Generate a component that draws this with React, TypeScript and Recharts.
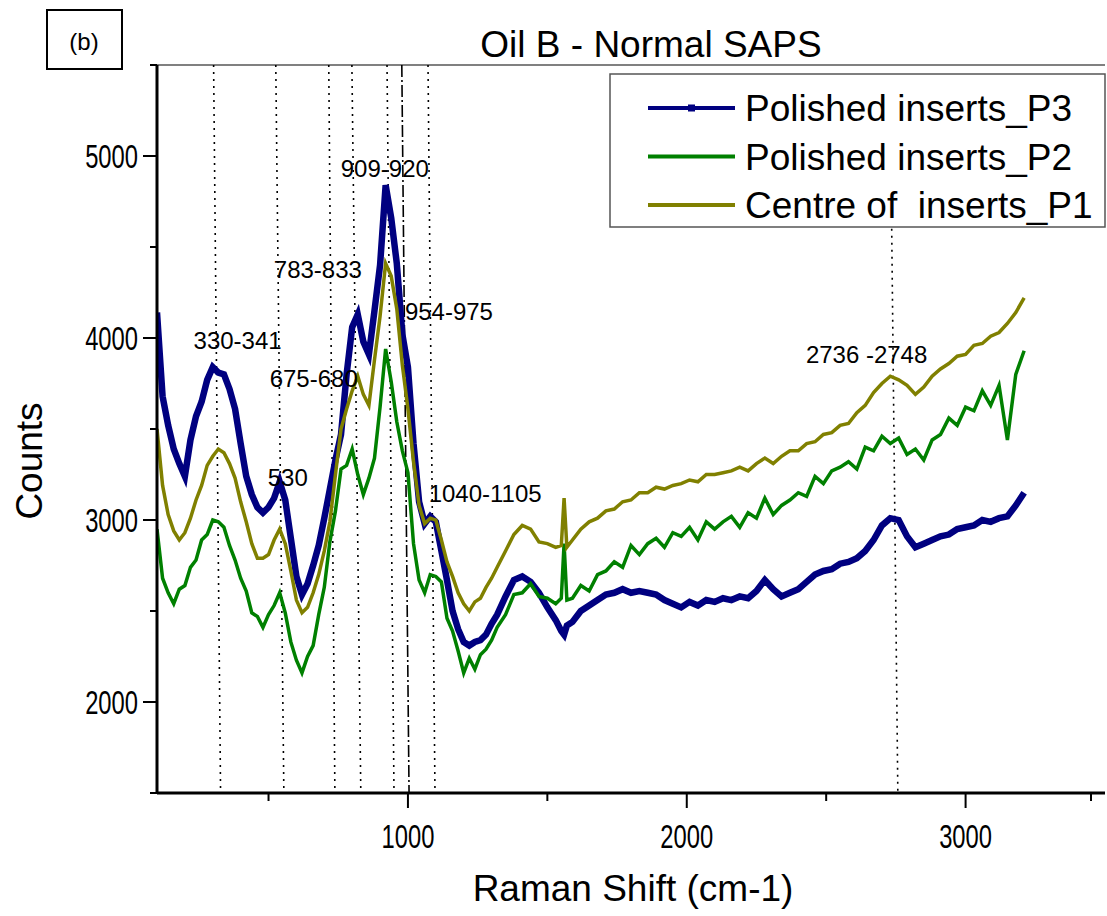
import React from 'react';
import { LineChart, Line, XAxis, YAxis, ReferenceLine, ReferenceDot } from 'recharts';

// Raman shift (cm-1) sample positions shared by the three spectra
const ramanShift = [
  100, 120, 140, 160, 180, 200, 220, 240, 260, 280,
  300, 320, 340, 360, 380, 400, 420, 440, 460, 480,
  500, 520, 540, 560, 580, 600, 620, 640, 660, 680,
  700, 720, 740, 760, 780, 800, 820, 840, 860, 880,
  900, 920, 940, 960, 980, 1000, 1020, 1040, 1060, 1080,
  1100, 1120, 1140, 1160, 1180, 1200, 1220, 1240, 1260, 1280,
  1300,
  1320, 1350, 1380, 1410, 1440, 1470, 1500, 1530,
  1550, 1560, 1570,
  1590, 1620, 1650, 1680, 1710, 1740, 1770, 1800, 1830, 1860,
  1890, 1920, 1950, 1980, 2010, 2040, 2070, 2100, 2130, 2160,
  2190, 2220, 2250, 2280, 2310, 2340, 2370, 2400, 2430, 2460,
  2490, 2520, 2550, 2580, 2610, 2640, 2670, 2700, 2730, 2760,
  2790, 2820, 2850, 2880, 2910, 2940, 2970, 3000, 3030, 3060,
  3090, 3120, 3150, 3180, 3210,
];

// Polished inserts_P3
const countsP3 = [
  4140, 3680, 3520, 3390, 3310, 3240, 3440, 3570, 3650, 3770,
  3840, 3810, 3800, 3720, 3610, 3420, 3240, 3140, 3070, 3040,
  3070, 3120, 3210, 3110, 2900, 2690, 2590, 2650, 2750, 2860,
  3010, 3170, 3330, 3470, 3800, 4060, 4130, 3980, 3910, 4150,
  4400, 4840, 4660, 4410, 4020, 3840, 3420, 3100, 2980, 3020,
  2990, 2830, 2670, 2500, 2400, 2330, 2310, 2330, 2340, 2370,
  2430,
  2480, 2580, 2670, 2690, 2660, 2600, 2520, 2450,
  2390, 2370, 2420,
  2440, 2500, 2530, 2560, 2590, 2600, 2620, 2600, 2610, 2600,
  2590, 2560, 2540, 2520, 2550, 2530, 2560, 2550, 2570, 2560,
  2580, 2570, 2610, 2670, 2620, 2580, 2600, 2620, 2660, 2700,
  2720, 2730, 2760, 2770, 2790, 2830, 2890, 2970, 3010, 3000,
  2910, 2850, 2870, 2890, 2910, 2920, 2950, 2960, 2970, 3000,
  2990, 3010, 3020, 3080, 3150,
];

// Polished inserts_P2
const countsP2 = [
  2950, 2680, 2600, 2540, 2620, 2640, 2740, 2780, 2890, 2920,
  3000, 2990, 2960, 2860, 2780, 2680, 2610, 2490, 2470, 2410,
  2480, 2530, 2600, 2490, 2330, 2230, 2160, 2250, 2310, 2480,
  2630, 2880, 3050, 3280, 3300, 3390, 3250, 3140, 3230, 3340,
  3620, 3940, 3760, 3540, 3380, 3260, 2870, 2670, 2600, 2700,
  2690, 2660, 2460, 2390, 2280, 2160, 2240, 2180, 2260, 2290,
  2340,
  2410, 2480, 2590, 2600, 2650, 2580, 2570, 2540,
  2570, 2870, 2560,
  2570, 2640, 2610, 2700, 2720, 2770, 2740, 2860, 2810, 2870,
  2900, 2850, 2930, 2910, 2960, 2890, 2990, 2950, 2990, 3020,
  2960, 3040, 3010, 3120, 3030, 3080, 3110, 3150, 3130, 3240,
  3200, 3270, 3290, 3320, 3280, 3400, 3380, 3460, 3420, 3450,
  3360, 3390, 3330, 3440, 3470, 3560, 3520, 3620, 3600, 3710,
  3630, 3740, 3440, 3800, 3930,
];

// Centre of  inserts_P1
const countsP1 = [
  3500, 3190, 3030, 2940, 2890, 2930, 3010, 3110, 3190, 3300,
  3350, 3390, 3370, 3310, 3230, 3100, 2990, 2870, 2790, 2790,
  2810, 2890, 2950, 2870, 2720, 2560, 2490, 2520, 2600, 2700,
  2830, 2990, 3250, 3500, 3610, 3710, 3790, 3690, 3630, 3880,
  4120, 4410, 4340, 4160, 3850, 3610, 3320, 3080, 2980, 3010,
  3000, 2890, 2770, 2690, 2600, 2540, 2500, 2550, 2570, 2630,
  2680,
  2740, 2830, 2920, 2970, 2950, 2880, 2870, 2850,
  2860, 3120, 2850,
  2890, 2950, 2990, 3010, 3050, 3060, 3100, 3110, 3150, 3150,
  3180, 3170, 3190, 3200, 3220, 3210, 3250, 3250, 3260, 3270,
  3290, 3270, 3310, 3340, 3310, 3350, 3380, 3380, 3420, 3430,
  3470, 3480, 3520, 3530, 3590, 3630, 3700, 3750, 3790, 3770,
  3740, 3690, 3730, 3790, 3830, 3860, 3900, 3910, 3960, 3970,
  4010, 4030, 4080, 4140, 4220,
];

const xTicks = [500, 1000, 1500, 2000, 2500, 3000, 3500];
const yTicks = [1500, 2000, 2500, 3000, 3500, 4000, 4500, 5000, 5500];

// dotted guide lines through the assigned bands (shift at top, shift at bottom)
const guideTop = [303, 526, 716, 799, 925, 1072, 2735];
const guideBottom = [328, 555, 738, 831, 950, 1097, 2757];
const guideTopCounts = [5500, 5500, 5500, 5500, 5500, 5500, 4600];
// dash-dot guide
const dashDotGuide = [978, 1004];

const bandLabels = ['330-341', '783-833', '909-920', '954-975', '675-680', '530', '1040-1105', '2736 -2748'];
const bandLabelShift = [389, 677, 917, 1147, 662, 569, 1277, 2645];
const bandLabelCounts = [3989, 4374, 4934, 4148, 3780, 3231, 3148, 3907];

const seriesNames = ['Polished inserts_P3', 'Polished inserts_P2', 'Centre of  inserts_P1'];
const seriesColors = ['#000080', '#008000', '#808000'];

const data = ramanShift.map((shift, i) => ({
  shift,
  p3: countsP3[i],
  p2: countsP2[i],
  p1: countsP1[i],
}));

const FONT = '"Liberation Sans", Arial, Helvetica, sans-serif';

const XTick = (props: any) => {
  const { x, y, payload } = props;
  const major = payload.value % 1000 === 0;
  return (
    <g>
      <line x1={x} x2={x} y1={y} y2={y + (major ? 15 : 8)} stroke="#000" strokeWidth={2} />
      {major && (
        <text transform={`translate(${x},${y + 55}) scale(0.72,1)`} textAnchor="middle" fontSize={33} fill="#000">
          {payload.value}
        </text>
      )}
    </g>
  );
};

const YTick = (props: any) => {
  const { x, y, payload } = props;
  const major = payload.value % 1000 === 0;
  return (
    <g>
      <line x1={x - (major ? 14 : 7)} x2={x} y1={y} y2={y} stroke="#000" strokeWidth={2} />
      {major && (
        <text transform={`translate(${x - 19},${y + 12}) scale(0.72,1)`} textAnchor="end" fontSize={33} fill="#000">
          {payload.value}
        </text>
      )}
    </g>
  );
};

const XLabel = (props: any) => {
  const { viewBox } = props;
  return (
    <text x={viewBox.x + viewBox.width / 2 + 2} y={viewBox.y + 108} textAnchor="middle" fontSize={37} fill="#000">
      Raman Shift (cm-1)
    </text>
  );
};

const YLabel = (props: any) => {
  const { viewBox } = props;
  const cx = 29;
  const cy = viewBox.y + viewBox.height / 2 + 32;
  return (
    <text x={cx} y={cy} transform={`rotate(-90, ${cx}, ${cy})`} textAnchor="middle" dominantBaseline="central" fontSize={37} fill="#000">
      Counts
    </text>
  );
};

export default function App() {
  return (
    <div style={{ position: 'absolute', left: 0, top: 0, background: '#fff' }}>
      <LineChart
        width={1107}
        height={916}
        data={data}
        margin={{ top: 65, right: 2, bottom: 0, left: 0 }}
        style={{ fontFamily: FONT }}
      >
        <XAxis
          type="number"
          dataKey="shift"
          domain={[100, 3500]}
          ticks={xTicks}
          allowDataOverflow
          height={123}
          tickSize={0}
          tickMargin={0}
          tickLine={false}
          tick={<XTick />}
          axisLine={{ stroke: '#000', strokeWidth: 3 }}
          label={<XLabel />}
        />
        <YAxis
          type="number"
          domain={[1500, 5500]}
          ticks={yTicks}
          allowDataOverflow
          width={157}
          tickSize={0}
          tickMargin={0}
          tickLine={false}
          tick={<YTick />}
          axisLine={{ stroke: '#000', strokeWidth: 3 }}
          label={<YLabel />}
        />

        <ReferenceLine y={5500} stroke="#808080" strokeWidth={2} />

        {guideTop.map((top, i) => (
          <ReferenceLine
            key={`g${i}`}
            segment={[{ x: top, y: guideTopCounts[i] }, { x: guideBottom[i], y: 1500 }]}
            stroke="#000"
            strokeWidth={1.6}
            strokeDasharray="2 5"
          />
        ))}
        <ReferenceLine
          segment={[{ x: dashDotGuide[0], y: 5500 }, { x: dashDotGuide[1], y: 1500 }]}
          stroke="#000"
          strokeWidth={1.6}
          strokeDasharray="12 3 2 3"
        />

        <Line type="linear" dataKey="p3" stroke={seriesColors[0]} strokeWidth={6.5} dot={false} isAnimationActive={false} />
        <Line type="linear" dataKey="p2" stroke={seriesColors[1]} strokeWidth={3.5} dot={false} isAnimationActive={false} />
        <Line type="linear" dataKey="p1" stroke={seriesColors[2]} strokeWidth={3.5} dot={false} isAnimationActive={false} />

        {bandLabels.map((text, i) => (
          <ReferenceDot
            key={`l${i}`}
            x={bandLabelShift[i]}
            y={bandLabelCounts[i]}
            r={0}
            fill="none"
            stroke="none"
            label={{ value: text, position: 'center', fontSize: 24, fill: '#000' }}
          />
        ))}

        {/* title and panel tag */}
        <text x={651} y={57} textAnchor="middle" fontSize={37} fill="#000">
          Oil B - Normal SAPS
        </text>
        <rect x={47} y={10} width={75} height={59} fill="none" stroke="#000" strokeWidth={2} />
        <text x={84} y={50} textAnchor="middle" fontSize={24} fill="#000">
          (b)
        </text>

        {/* legend */}
        <g>
          <rect x={610} y={74} width={495} height={153} fill="#fff" stroke="#555" strokeWidth={1.5} />
          {seriesNames.map((name, i) => {
            const cy = 108 + i * 48.5;
            return (
              <g key={name}>
                <line x1={648} x2={735} y1={cy} y2={cy} stroke={seriesColors[i]} strokeWidth={4} />
                {i === 0 && <rect x={688} y={cy - 3.5} width={7} height={7} fill={seriesColors[0]} />}
                <text x={745} y={cy + 13} fontSize={37} fill="#000" style={{ whiteSpace: 'pre' }}>
                  {name}
                </text>
              </g>
            );
          })}
        </g>
      </LineChart>
    </div>
  );
}
